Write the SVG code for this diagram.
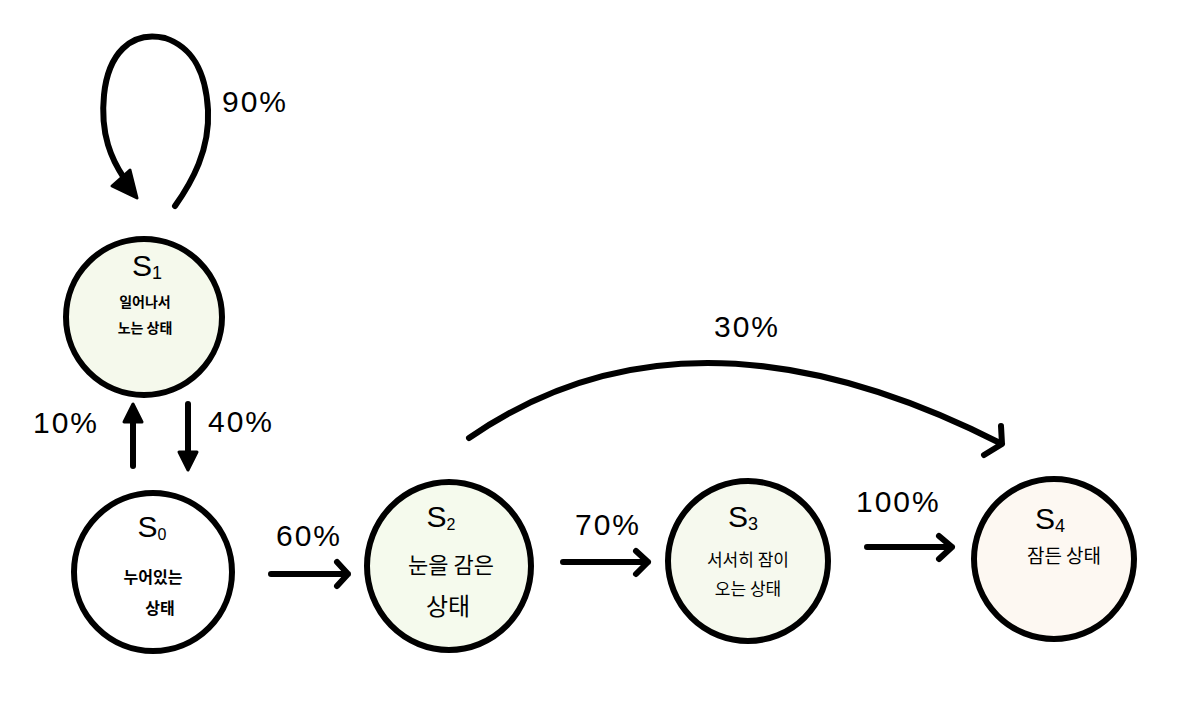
<svg xmlns="http://www.w3.org/2000/svg" width="1179" height="716" viewBox="0 0 1179 716">
<defs>
<style>
.node{stroke:#000;stroke-width:6}
.kr{font-family:"Noto Sans CJK KR","Noto Sans",sans-serif;fill:#000;text-anchor:middle}
.b{font-weight:bold}
.sn{font-family:"Liberation Sans",sans-serif;fill:#000;text-anchor:middle;font-size:30px}
.pct{font-family:"Liberation Sans",sans-serif;fill:#000;font-size:30px;letter-spacing:2px}
.edge{stroke:#000;stroke-width:6;fill:none;stroke-linecap:round;stroke-linejoin:round}
</style>
</defs>
<rect width="1179" height="716" fill="#fff"/>

<g id="connectors">
  <path class="edge" d="M175,206 C192,182 210,150 208,110 C206,75 195,48 165,38 C130,30 108,55 104,95 C100,135 112,160 124,178"/>
  <polygon points="137,198 112,186 130,170" fill="#000" stroke="#000" stroke-width="3" stroke-linejoin="round"/>
  <line class="edge" x1="133" y1="466" x2="133" y2="418"/>
  <polygon points="133,404 124,422 142,422" fill="#000" stroke="#000" stroke-width="3" stroke-linejoin="round"/>
  <line class="edge" x1="188" y1="404" x2="188" y2="455"/>
  <polygon points="188,470 179,452 197,452" fill="#000" stroke="#000" stroke-width="3" stroke-linejoin="round"/>
  <path class="edge" d="M271,574 L348,574 M337,562 L348,574 L337,586"/>
  <path class="edge" d="M563,562 L648,562 M636,551 L648,562 L636,574"/>
  <path class="edge" d="M867,547 L952,547 M939,536 L952,547 L939,559"/>
  <path class="edge" d="M469,438 Q690,285 1002,444 M1001,426 L1002,444 L984,455"/>
</g>

<g id="edge-labels">
  <text class="pct" x="222" y="112">90%</text>
  <text class="pct" x="714" y="337">30%</text>
  <text class="pct" x="33" y="433">10%</text>
  <text class="pct" x="208" y="432">40%</text>
  <text class="pct" x="276" y="546">60%</text>
  <text class="pct" x="575" y="535">70%</text>
  <text class="pct" x="856" y="512">100%</text>
</g>

<g id="node-s1">
  <circle class="node" cx="144" cy="317" r="78" fill="#f5f9ec"/>
  <text class="sn" x="147" y="276">S<tspan font-size="18" dy="3">1</tspan></text>
  <text class="kr b" x="145" y="307" font-size="14">일어나서</text>
  <text class="kr b" x="145" y="333" font-size="14">노는 상태</text>
</g>

<g id="node-s0">
  <circle class="node" cx="153" cy="572" r="79" fill="#fff"/>
  <text class="sn" x="152" y="537">S<tspan font-size="16" dy="3">0</tspan></text>
  <text class="kr b" x="153" y="583" font-size="16">누어있는</text>
  <text class="kr b" x="160" y="614" font-size="16">상태</text>
</g>

<g id="node-s2">
  <ellipse class="node" cx="449" cy="566" rx="82" ry="84" fill="#f5faed"/>
  <text class="sn" x="441" y="527">S<tspan font-size="16" dy="3">2</tspan></text>
  <text class="kr" x="451" y="573" font-size="22">눈을 감은</text>
  <text class="kr" x="448" y="615" font-size="24">상태</text>
</g>

<g id="node-s3">
  <circle class="node" cx="748" cy="561" r="80" fill="#f6f9ee"/>
  <text class="sn" x="743" y="527">S<tspan font-size="18" dy="3">3</tspan></text>
  <text class="kr" x="748" y="566" font-size="17">서서히 잠이</text>
  <text class="kr" x="748" y="595" font-size="17">오는 상태</text>
</g>

<g id="node-s4">
  <circle class="node" cx="1054" cy="559" r="80" fill="#fdf8f2"/>
  <text class="sn" x="1050" y="529">S<tspan font-size="18" dy="3">4</tspan></text>
  <text class="kr" x="1064" y="563" font-size="19">잠든 상태</text>
</g>
</svg>
